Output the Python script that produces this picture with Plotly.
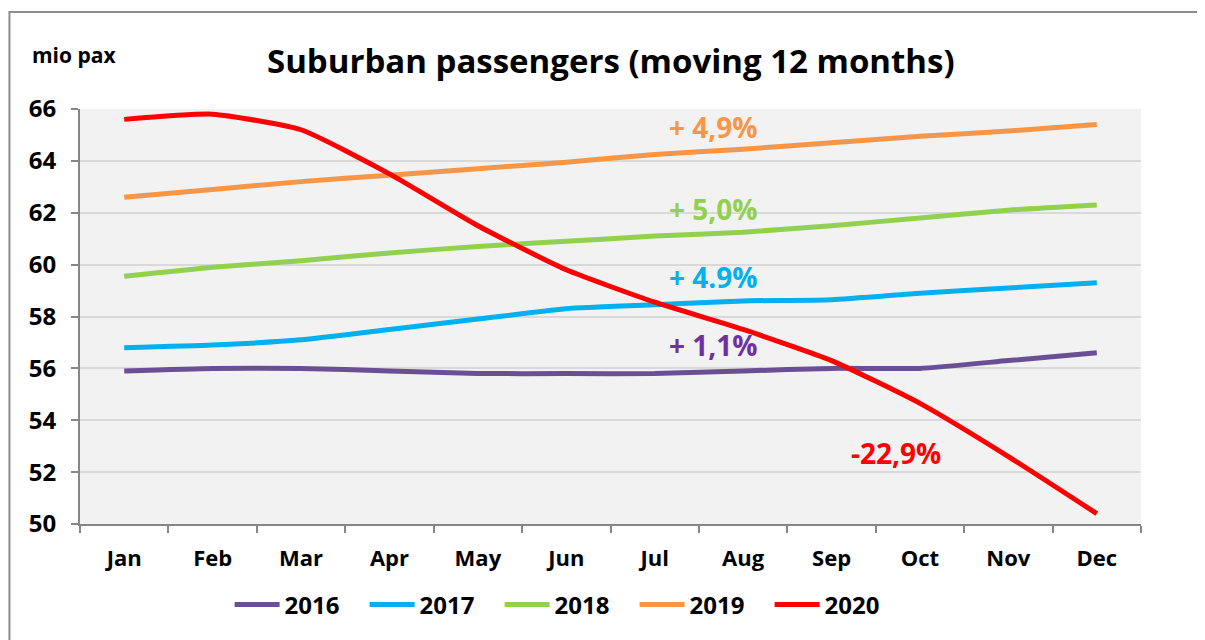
import plotly.graph_objects as go

months = ["Jan", "Feb", "Mar", "Apr", "May", "Jun", "Jul", "Aug", "Sep", "Oct", "Nov", "Dec"]
years = ["2016", "2017", "2018", "2019", "2020"]
v2016 = [55.9, 56.0, 56.0, 55.9, 55.8, 55.8, 55.8, 55.9, 56.0, 56.0, 56.3, 56.6]
v2017 = [56.8, 56.9, 57.1, 57.5, 57.9, 58.3, 58.45, 58.6, 58.65, 58.9, 59.1, 59.3]
v2018 = [59.55, 59.9, 60.15, 60.45, 60.7, 60.9, 61.1, 61.25, 61.5, 61.8, 62.1, 62.3]
v2019 = [62.6, 62.9, 63.2, 63.45, 63.7, 63.95, 64.25, 64.45, 64.7, 64.95, 65.15, 65.4]
v2020 = [65.6, 65.8, 65.2, 63.5, 61.5, 59.8, 58.55, 57.5, 56.3, 54.65, 52.6, 50.4]
labels = ["+ 1,1%", "+ 4.9%", "+ 5,0%", "+ 4,9%", "-22,9%"]
label_x = [6.67, 6.67, 6.67, 6.67, 8.73]
label_y = [56.9, 59.52, 62.15, 65.31, 52.74]

series = [v2016, v2017, v2018, v2019, v2020]
colors = ["#6a4f94", "#00b0f0", "#92d050", "#f79646", "#ff0000"]
text_colors = ["#7030a0", "#00b0f0", "#92d050", "#f79646", "#ff0000"]
FONT = "Open Sans"

fig = go.Figure()
for name, vals, col in zip(years, series, colors):
    fig.add_trace(go.Scatter(
        x=months, y=vals, name=name, mode="lines",
        line=dict(color=col, width=5, shape="spline", smoothing=0.5),
    ))

for txt, x, y, col in zip(labels, label_x, label_y, text_colors):
    fig.add_annotation(x=x, y=y, text=txt, showarrow=False, xref="x", yref="y",
                       font=dict(family=FONT, size=28, color=col, weight="bold"))

fig.add_annotation(text="Suburban passengers (moving 12 months)", xref="paper", yref="paper",
                   x=0.5, y=1.118, xanchor="center", yanchor="middle", showarrow=False,
                   font=dict(family=FONT, size=33, color="#000000", weight="bold"))
fig.add_annotation(text="mio pax", xref="paper", yref="paper",
                   x=-0.047, y=1.13, xanchor="left", yanchor="middle", showarrow=False,
                   font=dict(family=FONT, size=21, color="#000000", weight="bold"))

fig.add_shape(type="rect", xref="paper", yref="paper", x0=-0.0665, x1=1.1, y0=-0.4, y1=1.2337,
              line=dict(color="#8c8c8c", width=2), fillcolor="rgba(0,0,0,0)", layer="below")

fig.update_layout(
    width=1197, height=632,
    margin=dict(l=72, r=64, t=101, b=116),
    paper_bgcolor="#ffffff", plot_bgcolor="#f2f2f2",
    showlegend=True,
    legend=dict(orientation="h", x=0.141, y=-0.195, xanchor="left", yanchor="middle",
                font=dict(family=FONT, size=24, color="#000000", weight="bold"),
                itemwidth=45, entrywidth=75, entrywidthmode="pixels",
                tracegroupgap=0, bgcolor="rgba(0,0,0,0)"),
    font=dict(family=FONT, color="#000000"),
)
fig.update_xaxes(
    type="category", showline=True, linecolor="#868686", linewidth=2,
    ticks="outside", tickson="boundaries", ticklen=7, tickcolor="#868686", tickwidth=2,
    showgrid=False, tickfont=dict(family=FONT, size=22, color="#000000", weight="bold"),
    ticklabelstandoff=14,
    range=[-0.5, 11.5],
)
fig.update_yaxes(
    range=[50, 66], dtick=2, showline=True, linecolor="#868686", linewidth=2,
    ticks="outside", ticklen=7, tickcolor="#868686", tickwidth=2,
    showgrid=True, gridcolor="#d9d9d9", gridwidth=2, zeroline=False,
    tickfont=dict(family=FONT, size=24, color="#000000", weight="bold"),
    ticklabelstandoff=10,
)

fig.write_html("out.html")
